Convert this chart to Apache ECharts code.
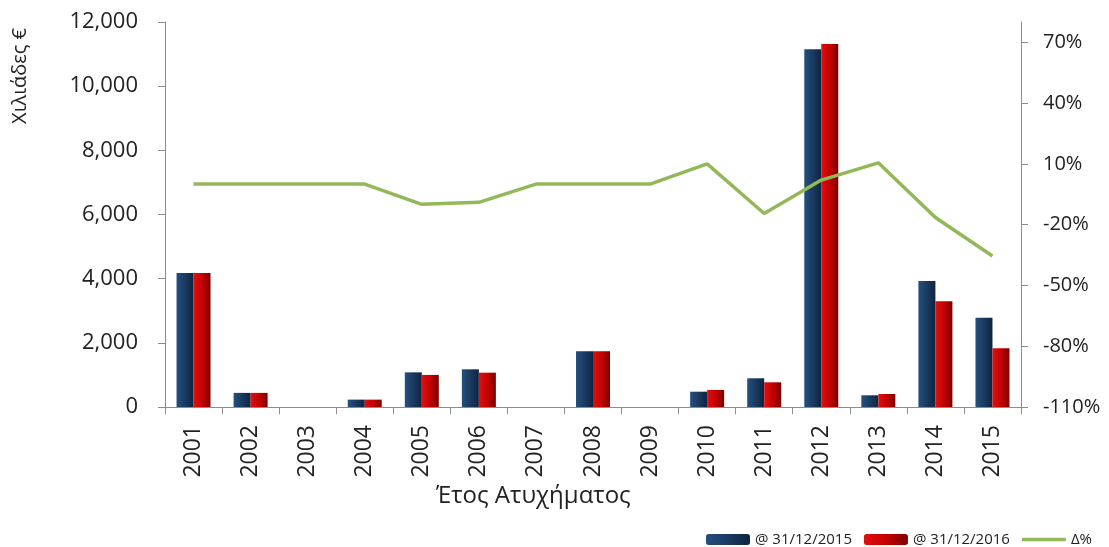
<!DOCTYPE html>
<html>
<head>
<meta charset="utf-8">
<script src="https://cdn.jsdelivr.net/npm/echarts@6/dist/echarts.min.js"></script>
<style>
  html, body { margin: 0; padding: 0; background: #fff; }
  #chart { width: 1109px; height: 547px; }
</style>
</head>
<body>
<div id="chart"></div>
<script>
// data
var years = ['2001', '2002', '2003', '2004', '2005', '2006', '2007', '2008',
  '2009', '2010', '2011', '2012', '2013', '2014', '2015'];
var at2015 = [4180, 440, 0, 230, 1080, 1175, 0, 1740, 0, 477, 895, 11150, 365, 3930, 2785];
var at2016 = [4180, 440, 0, 230, 1000, 1070, 0, 1740, 0, 530, 770, 11315, 405, 3300, 1830];
var delta = [0, 0, 0, 0, -10, -9, 0, 0, 0, 10, -14.5, 2, 10.5, -16.5, -35.5];

var font = 'Open Sans, Noto Sans, sans-serif';
var axisGray = '#8c8c8c';
var green = '#93b85a';

// bar gradients (roughly the 3d look)
var blueFill = new echarts.graphic.LinearGradient(0, 0, 1, 0, [
  { offset: 0, color: '#24507f' },
  { offset: 0.5, color: '#1a3a60' },
  { offset: 1, color: '#0e2440' }
]);
var redFill = new echarts.graphic.LinearGradient(0, 0, 1, 0, [
  { offset: 0, color: '#e01010' },
  { offset: 0.55, color: '#c00000' },
  { offset: 1, color: '#7a0000' }
]);

var chart = echarts.init(document.getElementById('chart'));

var option = {
  animation: false,
  textStyle: { fontFamily: font },
  grid: { left: 165, right: 88, top: 22, bottom: 140 },
  legend: {
    right: 12,
    top: 527,
    itemWidth: 44,
    itemHeight: 11,
    itemGap: 12,
    textStyle: { fontSize: 15, color: '#222', fontFamily: font },
    data: [
      '@ 31/12/2015',
      '@ 31/12/2016',
      { name: 'Δ%', icon: 'path://M0,0H44V3.5H0Z' }
    ]
  },
  xAxis: {
    type: 'category',
    data: years,
    axisLine: { lineStyle: { color: axisGray } },
    axisTick: { show: true, alignWithLabel: false, length: 7, lineStyle: { color: axisGray } },
    axisLabel: { rotate: 90, fontSize: 23, color: '#222', margin: 18 }
  },
  yAxis: [
    {
      type: 'value',
      min: 0,
      max: 12000,
      interval: 2000,
      splitLine: { show: false },
      axisLine: { show: true, lineStyle: { color: axisGray } },
      axisTick: { show: true, length: 7, lineStyle: { color: axisGray } },
      axisLabel: {
        fontSize: 22,
        color: '#222',
        margin: 27,
        formatter: function (v) { return v.toLocaleString('en-US'); }
      }
    },
    {
      type: 'value',
      min: -110,
      max: 80,
      interval: 30,
      alignTicks: false,
      splitLine: { show: false },
      axisLine: { show: true, lineStyle: { color: axisGray } },
      axisTick: { show: true, length: 7, lineStyle: { color: axisGray } },
      axisLabel: {
        fontSize: 20,
        color: '#222',
        margin: 22,
        showMaxLabel: false,
        formatter: function (v) { return v + '%'; }
      }
    }
  ],
  graphic: [
    {
      type: 'text',
      left: 10,
      top: 28,
      rotation: Math.PI / 2,
      style: { text: 'Χιλιάδες €', fontSize: 20, fill: '#222', fontFamily: font }
    },
    {
      type: 'text',
      left: 436,
      top: 484,
      style: { text: 'Έτος Ατυχήματος', fontSize: 24, fill: '#222', fontFamily: font }
    }
  ],
  series: [
    {
      name: '@ 31/12/2015',
      type: 'bar',
      data: at2015,
      barWidth: 17,
      barGap: '0%',
      itemStyle: { color: blueFill }
    },
    {
      name: '@ 31/12/2016',
      type: 'bar',
      data: at2016,
      barWidth: 17,
      itemStyle: { color: redFill }
    },
    {
      name: 'Δ%',
      type: 'line',
      yAxisIndex: 1,
      data: delta,
      symbol: 'none',
      lineStyle: { color: green, width: 3.5 },
      itemStyle: { color: green },
      z: 5
    }
  ]
};

chart.setOption(option);
</script>
</body>
</html>
